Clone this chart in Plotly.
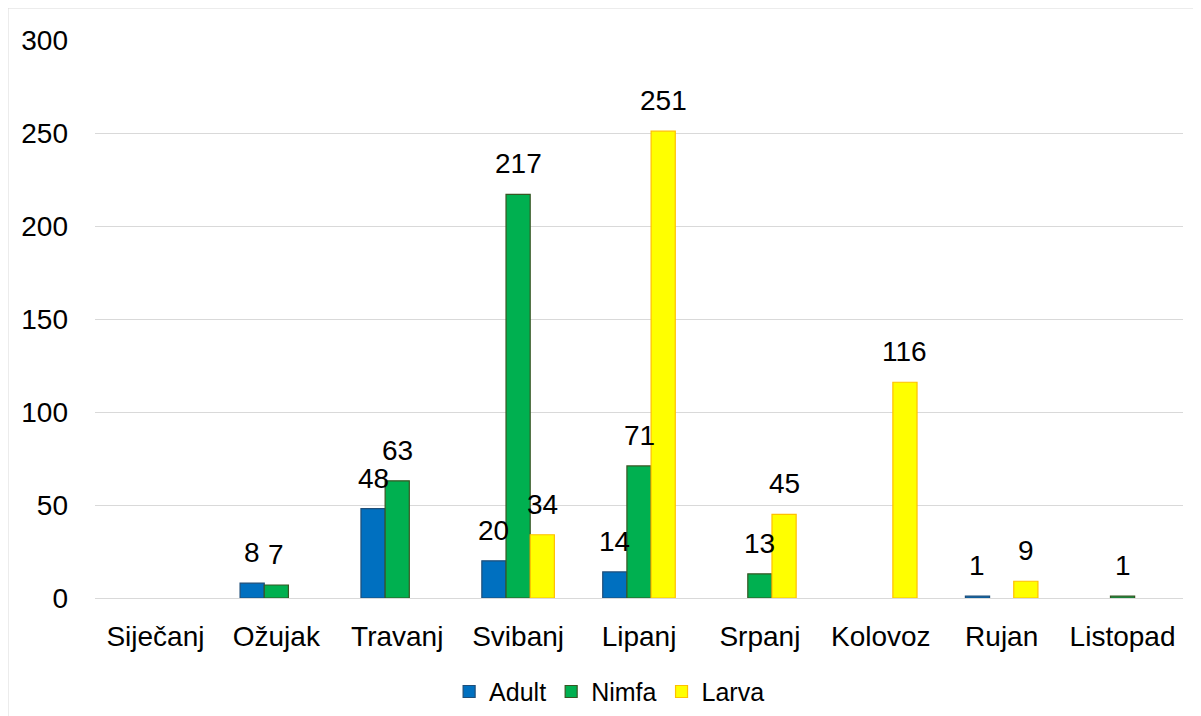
import plotly.graph_objects as go

# ---------------------------------------------------------------------------
# Data (None = no bar / no label)
# ---------------------------------------------------------------------------

months = ["Siječanj", "Ožujak", "Travanj", "Svibanj", "Lipanj",
          "Srpanj", "Kolovoz", "Rujan", "Listopad"]
adult = [None, 8, 48, 20, 14, None, None, 1, None]
nimfa = [None, 7, 63, 217, 71, 13, None, None, 1]
larva = [None, None, None, 34, 251, 45, 116, 9, None]

series = [
    ("Adult", adult, "#0070C0", "#1F4E79"),
    ("Nimfa", nimfa, "#00B050", "#375623"),
    ("Larva", larva, "#FFFF00", "#FFC000"),
]

FONT = "Liberation Sans, Arial, sans-serif"
# page body has an 8px margin, so the figure is a bit smaller than the window
W, H = 1193, 708
L, R, T, B = 87, 18, 32, 118

fig = go.Figure()
for name, vals, fill, edge in series:
    fig.add_trace(go.Bar(
        x=months, y=vals, name=name,
        marker=dict(color=fill, line=dict(color=edge, width=1.2)),
        hoverinfo="x+y+name",
    ))

# data labels, sitting a bit above each bar like Excel does
cat_w = (W - L - R) / len(months)
bar_w = cat_w * 0.6 / len(series)
annotations = []
for k, (name, vals, _, _) in enumerate(series):
    for m, v in zip(months, vals):
        if v:
            annotations.append(dict(
                x=m, y=v, xref="x", yref="y", text=str(v), showarrow=False,
                xshift=(k - 1) * bar_w, yshift=13, yanchor="bottom",
                font=dict(family=FONT, size=28, color="#000000"),
            ))

fig.update_layout(
    width=W, height=H,
    margin=dict(l=L, r=R, t=T, b=B, autoexpand=False),
    plot_bgcolor="white", paper_bgcolor="white",
    font=dict(family=FONT, color="#000000", size=28),
    barmode="group", bargap=0.4, bargroupgap=0,
    annotations=annotations,
    legend=dict(
        orientation="h", x=0.473, xanchor="center", y=-0.168, yanchor="middle",
        font=dict(size=25), itemwidth=30, traceorder="normal",
        bgcolor="rgba(0,0,0,0)",
    ),
    xaxis=dict(
        showgrid=False, showline=True, linecolor="#d9d9d9", linewidth=1,
        ticks="", ticklabelstandoff=13, tickfont=dict(size=28),
    ),
    yaxis=dict(
        range=[0, 300], dtick=50, showgrid=True, gridcolor="#d9d9d9",
        gridwidth=1, zeroline=False, showline=False, ticks="",
        ticklabelstandoff=26, tickfont=dict(size=28),
    ),
    shapes=[dict(
        type="rect", xref="paper", yref="paper",
        x0=(0 - L) / (W - L - R), x1=1.1,
        y0=-0.4, y1=1 + T / (H - T - B),
        line=dict(color="#d9d9d9", width=1), fillcolor="rgba(0,0,0,0)",
        layer="below",
    )],
)

fig.write_html("out.html")
